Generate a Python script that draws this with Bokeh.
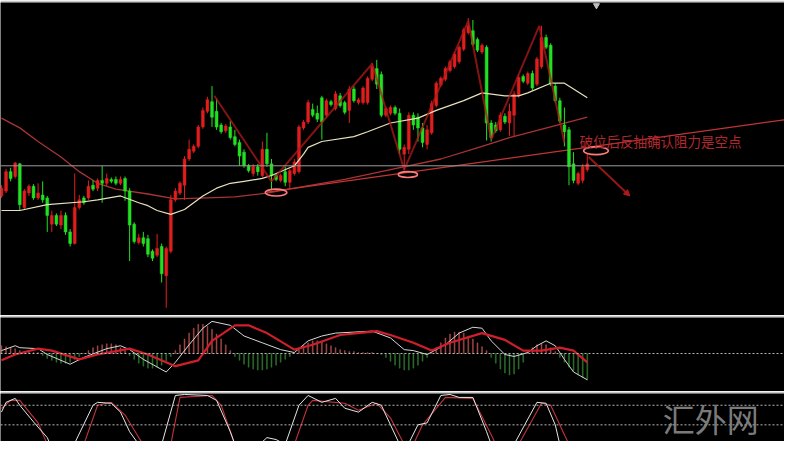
from bokeh.plotting import figure
from bokeh.layouts import column
from bokeh.models import Range1d, Span, Arrow, NormalHead, Label, ColumnDataSource
from bokeh.embed import file_html
from bokeh.resources import INLINE

# ---------------- price data (candles, index = bar number) ----------------
open_ = [1197, 1202, 1222, 1217, 1230, 1185, 1200, 1207, 1195, 1198,
         1195, 1168, 1177, 1167, 1177, 1160, 1148, 1185, 1195, 1195,
         1208, 1205, 1213, 1210, 1214, 1214, 1210, 1215, 1202, 1168,
         1149, 1154, 1153, 1140, 1136, 1145, 1115, 1140, 1193, 1200,
         1208, 1235, 1243, 1248, 1268, 1284, 1294, 1284, 1270, 1264,
         1268, 1258, 1252, 1242, 1228, 1220, 1227, 1218, 1245, 1230,
         1218, 1213, 1222, 1211, 1220, 1222, 1267, 1273, 1286, 1282,
         1298, 1280, 1294, 1287, 1300, 1293, 1285, 1307, 1293, 1293,
         1293, 1317, 1328, 1322, 1280, 1282, 1288, 1282, 1240, 1245,
         1280, 1278, 1267, 1250, 1262, 1290, 1311, 1317, 1326, 1330,
         1335, 1348, 1365, 1367, 1358, 1345, 1350, 1272, 1270, 1265,
         1279, 1272, 1280, 1300, 1320, 1313, 1323, 1312, 1330, 1360,
         1352, 1310, 1295, 1270, 1265, 1230, 1210, 1213, 1224]
high = [1208, 1225, 1226, 1232, 1231, 1204, 1209, 1209, 1210, 1212,
        1197, 1182, 1179, 1182, 1180, 1163, 1220, 1198, 1197, 1213,
        1213, 1215, 1228, 1220, 1216, 1217, 1217, 1217, 1205, 1170,
        1158, 1160, 1157, 1142, 1158, 1148, 1145, 1198, 1205, 1212,
        1238, 1255, 1250, 1270, 1288, 1299, 1310, 1297, 1272, 1271,
        1274, 1265, 1255, 1245, 1230, 1230, 1230, 1253, 1262, 1235,
        1220, 1220, 1227, 1225, 1235, 1270, 1275, 1296, 1292, 1290,
        1300, 1297, 1296, 1305, 1303, 1295, 1310, 1310, 1298, 1310,
        1320, 1334, 1337, 1325, 1289, 1290, 1290, 1287, 1250, 1283,
        1283, 1282, 1272, 1270, 1295, 1315, 1320, 1330, 1337, 1345,
        1352, 1370, 1380, 1378, 1360, 1354, 1352, 1275, 1273, 1283,
        1282, 1292, 1305, 1322, 1322, 1325, 1326, 1340, 1372, 1363,
        1354, 1313, 1298, 1288, 1268, 1242, 1222, 1230, 1240]
low = [1195, 1200, 1212, 1215, 1182, 1183, 1197, 1193, 1193, 1190,
       1160, 1160, 1166, 1163, 1157, 1145, 1147, 1183, 1188, 1193,
       1202, 1202, 1190, 1207, 1210, 1208, 1208, 1192, 1130, 1148,
       1147, 1145, 1134, 1130, 1134, 1108, 1082, 1138, 1191, 1198,
       1193, 1233, 1241, 1246, 1266, 1282, 1268, 1265, 1261, 1262,
       1255, 1248, 1228, 1226, 1221, 1217, 1218, 1216, 1227, 1203,
       1212, 1211, 1207, 1205, 1218, 1220, 1265, 1271, 1278, 1273,
       1255, 1278, 1289, 1285, 1288, 1281, 1272, 1293, 1291, 1291,
       1291, 1315, 1307, 1278, 1278, 1280, 1280, 1240, 1223, 1240,
       1265, 1253, 1247, 1245, 1260, 1288, 1309, 1315, 1324, 1328,
       1333, 1346, 1363, 1351, 1345, 1343, 1254, 1253, 1262, 1263,
       1271, 1259, 1258, 1298, 1313, 1311, 1306, 1310, 1328, 1348,
       1310, 1293, 1272, 1248, 1208, 1210, 1208, 1210, 1222]
close = [1205, 1222, 1215, 1231, 1188, 1202, 1207, 1195, 1200, 1193,
         1177, 1177, 1168, 1177, 1160, 1148, 1185, 1193, 1190, 1207,
         1204, 1213, 1210, 1215, 1212, 1210, 1214, 1202, 1167, 1150,
         1154, 1148, 1137, 1133, 1143, 1117, 1143, 1193, 1202, 1210,
         1235, 1245, 1248, 1268, 1285, 1296, 1278, 1268, 1263, 1269,
         1257, 1250, 1238, 1228, 1223, 1227, 1222, 1245, 1230, 1218,
         1214, 1218, 1211, 1223, 1232, 1268, 1273, 1293, 1280, 1276,
         1273, 1295, 1291, 1302, 1290, 1283, 1307, 1295, 1296, 1308,
         1318, 1330, 1312, 1280, 1287, 1288, 1282, 1245, 1247, 1280,
         1270, 1267, 1252, 1265, 1292, 1313, 1318, 1328, 1335, 1343,
         1350, 1368, 1372, 1353, 1347, 1352, 1272, 1257, 1264, 1280,
         1273, 1284, 1302, 1319, 1315, 1323, 1308, 1338, 1360, 1350,
         1312, 1295, 1274, 1263, 1227, 1213, 1220, 1227, 1230]

# moving averages (sampled readings)
ma_short_idx = [0, 4, 10, 18, 21, 26, 30, 32, 34, 37, 40, 44, 47, 50, 53, 57, 59, 64, 66, 67,
                70, 77, 80, 85, 91, 95, 101, 105, 110, 113, 115, 120, 123, 125, 128]
ma_short_val = [1182, 1182, 1188, 1191, 1193, 1197, 1190, 1187, 1182, 1178, 1183, 1197, 1205, 1210,
                1212, 1215, 1218, 1228, 1240, 1247, 1253, 1258, 1263, 1272, 1277, 1285, 1295, 1303,
                1300, 1300, 1303, 1313, 1313, 1307, 1298]
ma_long_idx = [0, 4, 8, 13, 17, 21, 25, 32, 38, 45, 51, 58, 64, 75, 85, 96, 105, 111, 120, 128]
ma_long_val = [1277, 1267, 1253, 1237, 1222, 1210, 1204, 1199, 1194, 1195, 1196, 1200, 1205, 1214,
               1224, 1235, 1248, 1257, 1268, 1278]

# hand-drawn annotations
zigzag_idx = [46.5, 59, 81, 88, 102, 107, 117.5, 123]
zigzag_val = [1300, 1212, 1333, 1224, 1377, 1255, 1372, 1252]
trend_idx = [58, 172]
trend_val = [1201, 1276]
level_price = 1228
ellipse_idx = [60, 88.8, 129.9]
ellipse_val = [1200.5, 1219, 1243.5]
ellipse_w = [4.7, 4.2, 5.4]
ellipse_h = [7, 6, 8]
arrow_from = (128.3, 1237)
arrow_to = (137.3, 1197)
note_text = "破位后反抽确认阻力是空点"
note_pos = (126.3, 1254)

# MACD
macd_idx = [0, 3, 4, 8, 10, 15, 18, 23, 26, 28, 31, 36, 38, 41, 44, 46, 50, 53, 57, 61,
            64, 67, 70, 73, 77, 81, 85, 88, 90, 93, 97, 100, 103, 105, 107, 110, 112, 115, 117, 119,
            121, 123, 125, 128]
macd_val = [0.3, 0.8, 0.6, 0.5, -0.1, -1.1, -0.4, 0.5, 0.8, 0.4, -0.6, -1.9, -0.9, 0.9, 2.6, 3.3,
            2.9, 1.8, 1.1, 0.4, 0.1, 1.3, 1.8, 2.1, 2.2, 2.3, 1.6, 0.4, 0.3, -0.1, 0.9, 2.1, 2.7,
            2.6, 1.3, -0.1, -0.3, 0.1, 0.8, 1.3, 0.8, -0.6, -1.9, -2.7]
signal_idx = [0, 3, 8, 11, 17, 21, 28, 32, 38, 43, 46, 51, 54, 58, 64, 68, 74, 80, 82, 85,
              90, 94, 98, 105, 110, 114, 118, 122, 125, 128]
signal_val = [-0.7, -0.1, 0.5, 0.3, -0.6, -0.1, 0.5, -0.1, -1.3, -0.7, 1.3, 2.9, 2.9, 2.1, 0.4,
              0.9, 1.9, 2.2, 2.3, 1.9, 1.1, 0.3, 1.1, 2.1, 1.4, 0.3, 0.3, 0.6, 0.3, -0.9]
hist = [0.8, 0.7, 0.6, 0.5, 0.3, 0.2, 0.2, 0.1, 0.1,
        -0.2, -0.5, -0.7, -0.9, -1.0, -1.0, -0.9, -0.6,
        -0.3, 0.0,
        0.3, 0.6, 0.8, 0.9, 1.0, 1.0, 0.9, 0.6, 0.3,
        -0.2, -0.6, -1.0, -1.3, -1.5, -1.5, -1.4, -1.2, -0.8, -0.3,
        0.3, 0.9, 1.5, 2.1, 2.6, 3.0, 3.0, 2.8, 2.5, 2.0, 1.5, 0.9, 0.3,
        -0.3, -0.7, -1.1, -1.4, -1.6, -1.7, -1.7, -1.6, -1.4, -1.2, -0.9, -0.6, -0.3, 0.0,
        0.4, 0.8, 1.1, 1.3, 1.3, 1.2, 1.0, 0.8, 0.6, 0.4, 0.3,
        0.2, 0.2, 0.1, 0.1, 0.1, 0.1, 0.0, -0.1,
        -0.4, -0.8, -1.2, -1.5, -1.7, -1.7, -1.5, -1.2, -0.8, -0.4,
        0.1, 0.6, 1.1, 1.6, 2.0, 2.2, 2.2, 2.1, 1.8, 1.5, 1.1, 0.7, 0.3,
        -0.4, -1.0, -1.6, -2.0, -2.2, -2.1, -1.6, -0.9,
        0.2, 0.6, 0.9, 1.0, 0.9, 0.6, 0.2,
        -0.4, -0.9, -1.4, -1.8, -2.2, -2.5, -2.7]

# Stochastic
k_idx = [0, 1, 3, 4, 7, 10, 11, 13, 15, 16, 20, 21, 24, 26, 28, 30, 32, 35, 38, 40,
         45, 47, 50, 51, 54, 57, 58, 60, 62, 65, 67, 70, 73, 75, 78, 81, 83, 85, 87, 88,
         89, 91, 93, 96, 98, 100, 103, 106, 107, 109, 112, 117, 119, 121, 122, 125, 128]
k_val = [69.5, 84.5, 90.5, 80, 54.5, 30.5, 15, 10, 10, 22, 80, 84.5, 83, 69.5, 39.5, 20, 10, 20,
         95, 96.5, 95, 87.5, 39.5, 20, 10, 24, 30.5, 27.5, 20, 80, 95, 84.5, 90.5, 75.5, 69.5,
         84.5, 80, 50, 20, 10, 22, 50, 53, 95, 96.5, 92, 92, 39.5, 20, 10, 20, 84.5, 83, 50, 20,
         10, 10]
d_idx = [0, 2, 4, 8, 10, 13, 16, 18, 21, 24, 27, 30, 31, 33, 35, 37, 39, 46, 48, 51,
         56, 62, 64, 67, 68, 75, 78, 82, 85, 88, 89, 90, 92, 97, 103, 107, 108, 110, 113, 118,
         120, 123, 124, 128]
d_val = [75, 87.5, 87.5, 53, 20, 10, 10, 20, 80, 84.5, 65, 30.5, 20, 10, 10, 20, 92, 95, 80, 20,
         10, 10, 20, 80, 87.5, 83, 72.5, 83, 60.5, 20, 10, 20, 50, 92, 90.5, 35, 20, 10, 20, 83,
         80, 35, 20, 10]
stoch_levels = [80, 50]

watermark = "汇外网"

# ---------------- figures ----------------
W = 784
xr = Range1d(-0.214, 171.09)
CJK = "Noto Sans CJK SC"


def panel(h, y0, y1):
    p = figure(width=W, height=h, x_range=xr, y_range=Range1d(y0, y1),
               output_backend="svg", toolbar_location=None,
               x_axis_location=None, y_axis_location=None,
               background_fill_color="black", border_fill_color="#c6c6c6",
               outline_line_color=None, min_border=0, min_border_top=2,
               min_border_left=0, min_border_right=0, min_border_bottom=0)
    p.grid.visible = False
    return p


RED = "#e01e1e"
GRN = "#22e022"

# main price panel
p1 = panel(315, 1074, 1396)
idx = list(range(len(close)))
colors = [RED if c >= o else GRN for o, c in zip(open_, close)]
src = ColumnDataSource(dict(x=idx, high=high, low=low,
                            top=[max(o, c) for o, c in zip(open_, close)],
                            bottom=[min(o, c) for o, c in zip(open_, close)],
                            color=colors))

p1.add_layout(Span(location=level_price, dimension="width", line_color="#9c9c9c", line_width=1))
p1.line(ma_long_idx, ma_long_val, line_color="#a83434", line_width=1.3, line_join="round")
p1.line(trend_idx, trend_val, line_color="#c23535", line_width=1.2)
p1.segment(x0="x", y0="high", x1="x", y1="low", source=src, line_color="color", line_width=1)
p1.vbar(x="x", width=0.62, top="top", bottom="bottom", source=src,
        fill_color="color", line_color="color", line_width=0.5)
p1.line(ma_short_idx, ma_short_val, line_color="#e8e2b8", line_width=1.2, line_join="round")
p1.line(zigzag_idx, zigzag_val, line_color="#b01a1a", line_width=2, line_alpha=0.75)
p1.ellipse(x=ellipse_idx, y=ellipse_val, width=ellipse_w, height=ellipse_h,
           fill_color=None, line_color="#ff7b7b", line_width=1.6)
p1.add_layout(Arrow(end=NormalHead(size=6, fill_color="#b01a1a", line_color="#b01a1a"),
                    x_start=arrow_from[0], y_start=arrow_from[1],
                    x_end=arrow_to[0], y_end=arrow_to[1],
                    line_color="#b01a1a", line_width=2, line_alpha=0.85))
p1.add_layout(Label(x=note_pos[0], y=note_pos[1], text=note_text, text_font=CJK,
                    text_font_size="13.5px", text_color="#b2282c", text_baseline="middle"))
p1.scatter([130.0], [1393], marker="inverted_triangle", size=6, color="#bdbdbd")

# MACD panel
p2 = panel(76, -3.9, 3.7)
p2.add_layout(Span(location=0, dimension="width", line_color="#b8b8b8",
                   line_dash="2 2", line_width=1))
hcol = ["#a84a4a" if h >= 0 else "#2f742f" for h in hist]
p2.vbar(x=idx, width=0.2, top=[max(h, 0) for h in hist], bottom=[min(h, 0) for h in hist],
        fill_color=hcol, line_color=hcol, line_width=0.5)
p2.line(macd_idx, macd_val, line_color="#d6d6d6", line_width=1, line_join="round")
p2.line(signal_idx, signal_val, line_color="#d01f2b", line_width=2.2, line_join="round")

# Stochastic panel
p3 = panel(50, 24.5, 98)
for lv in stoch_levels:
    p3.add_layout(Span(location=lv, dimension="width", line_color="#b8b8b8",
                       line_dash="2 2", line_width=1))
p3.line(d_idx, d_val, line_color="#c2333a", line_width=1.1, line_join="round")
p3.line(k_idx, k_val, line_color="#e6e6e6", line_width=1, line_join="round")
p3.add_layout(Label(x=144.5, y=60, text=watermark, text_font=CJK, text_font_size="32px",
                    text_color="#8c8c8c", text_alpha=0.9, text_baseline="middle"))

layout = column(p1, p2, p3, spacing=0)
open("out.html", "w").write(file_html(layout, INLINE))
